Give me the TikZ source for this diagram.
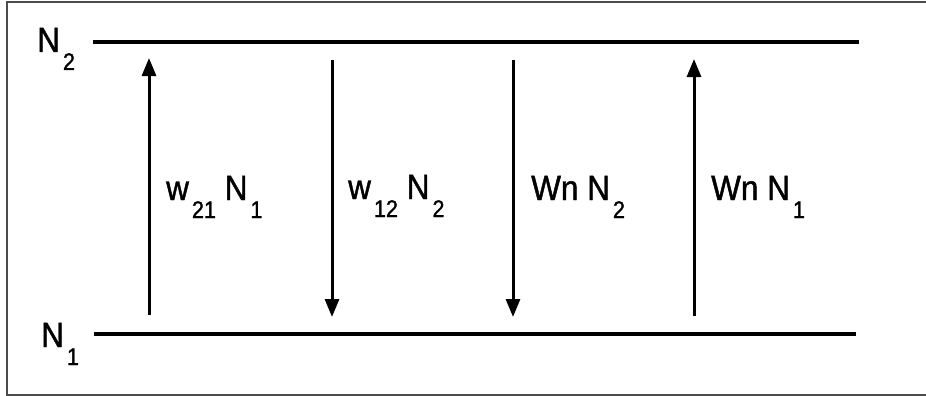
\documentclass[tikz,border=0pt]{standalone}
\usepackage{fontspec}
\setmainfont[FakeStretch=0.9,FakeBold=1.2]{Liberation Sans}
\usetikzlibrary{arrows.meta}

% lowered index, as in the level populations
\newcommand{\low}[1]{\kern3pt\raisebox{-18pt}{\fontsize{24}{24}\selectfont #1}}

\tikzset{
  stateline/.style={line width=3.5pt},
  rate/.style={line width=3pt, -{Triangle[width=14pt,length=18pt]}},
  lbl/.style={anchor=base west, inner sep=0pt, font=\fontsize{35}{35}\selectfont},
}

\begin{document}
\begin{tikzpicture}[x=1pt,y=-1pt]
\useasboundingbox (0,0) rectangle (926,396);
\draw[gray!60!black, line width=1.2pt] (926,2) -- (7,2) -- (7,395) -- (926,395);
% levels
\coordinate (top0) at (93,42);
\coordinate (top1) at (859,42);
\coordinate (bot0) at (94,334);
\coordinate (bot1) at (856,334);
\draw[stateline] (top0) -- (top1);
\draw[stateline] (bot0) -- (bot1);
\draw (37,52) node[lbl] (n2) {N\low{2}};
\draw (41,347) node[lbl] (n1) {N\low{1}};
% transitions
\coordinate (a1) at (149,315);
\coordinate (b1) at (149,58);
\coordinate (a2) at (332,60);
\coordinate (b2) at (332,317);
\coordinate (a3) at (513,60);
\coordinate (b3) at (513,317);
\coordinate (a4) at (694,316);
\coordinate (b4) at (694,59);
\draw[rate] (a1) -- (b1);
\draw[rate] (a2) -- (b2);
\draw[rate] (a3) -- (b3);
\draw[rate] (a4) -- (b4);
\draw (166,200) node[lbl] (r1) {w\low{21} N\low{1}};
\draw (348,199) node[lbl] (r2) {w\low{12} N\low{2}};
\draw (531,200) node[lbl] (r3) {Wn N\low{2}};
\draw (711,200) node[lbl] (r4) {Wn N\low{1}};
\end{tikzpicture}
\end{document}
